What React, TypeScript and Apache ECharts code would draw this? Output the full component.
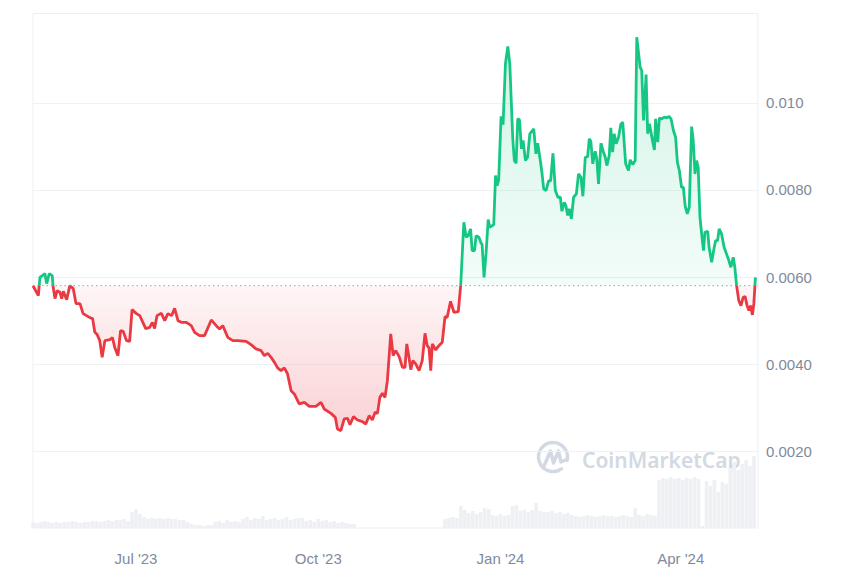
import React, { useEffect, useRef } from 'react';
import * as echarts from 'echarts';

const START = Date.UTC(2023, 4, 10);
const DAY = 86400000;
const RANGE_DAYS = 366;
const BASELINE = 0.0058;

const GREEN = '#16c784';
const RED = '#ea3943';

// [day offset from START, price]
const pricePoints: [number, number][] = [
  [0, 0.0058], [2.7, 0.005573], [3.5, 0.005993], [6, 0.006078], [6.9, 0.005848], [8.2, 0.006078],
  [9.7, 0.006032], [10.2, 0.005763], [11.1, 0.005504], [12.2, 0.005688], [13.6, 0.005649], [14.5, 0.005504],
  [15.3, 0.005672], [17, 0.005481], [18.6, 0.005803], [20.3, 0.005734], [21.7, 0.005389], [23.7, 0.005389],
  [25.3, 0.005159], [28.7, 0.005067], [30.1, 0.005044], [31.2, 0.00473], [32.4, 0.004677], [33.7, 0.004539],
  [34.9, 0.004155], [36.3, 0.004539], [38.8, 0.004562], [40.1, 0.004608], [41.3, 0.004378], [42.9, 0.004194],
  [44.2, 0.004769], [45.5, 0.004753], [47.2, 0.004539], [48.8, 0.004523], [50, 0.005251], [52.2, 0.005159],
  [53.9, 0.005113], [56.9, 0.004815], [58.9, 0.004844], [60.3, 0.004959], [61.4, 0.004815], [62.6, 0.005113],
  [64.8, 0.005166], [66.5, 0.004998], [68.1, 0.005159], [70, 0.005113], [71.5, 0.005281], [73.2, 0.004998],
  [74.9, 0.004959], [77.4, 0.004959], [79.9, 0.004883], [81.6, 0.00473], [84.1, 0.004654], [86.6, 0.004654],
  [90, 0.005014], [92.5, 0.004883], [94.2, 0.004808], [95.8, 0.004883], [98.3, 0.004615], [100.9, 0.004539],
  [103.4, 0.004539], [107.6, 0.004523], [110.1, 0.004447], [112.6, 0.004348], [115.2, 0.004309], [116.8, 0.004194],
  [118.5, 0.004247], [120.2, 0.004155], [121.9, 0.00404], [123.5, 0.003912], [125.2, 0.00385], [126.9, 0.003912],
  [128.5, 0.003774], [130.3, 0.00339], [131.9, 0.003314], [134.4, 0.003085], [137, 0.003121], [139.5, 0.003029],
  [142.8, 0.003029], [145.4, 0.003121], [147, 0.00297], [150.4, 0.002869], [152.6, 0.002777], [153.7, 0.00251],
  [155.4, 0.002471], [157.1, 0.00274], [158.8, 0.002754], [160, 0.002609], [161.8, 0.002793], [163.8, 0.002717],
  [166.3, 0.002678], [168, 0.002625], [169.7, 0.002816], [171.3, 0.002717], [172.7, 0.002892], [173.9, 0.002869],
  [175.1, 0.003236], [176.4, 0.003328], [177.7, 0.003236], [178.9, 0.00362], [180.6, 0.004693], [181.8, 0.004194],
  [183.1, 0.004309], [184.8, 0.004178], [186.5, 0.003925], [187.8, 0.003925], [188.7, 0.004463], [189.8, 0.004155],
  [190.7, 0.003873], [191.8, 0.004079], [193.2, 0.004004], [194.9, 0.00385], [196.5, 0.004079], [197.9, 0.004707],
  [199, 0.004424], [199.9, 0.004371], [200.8, 0.00385], [201.6, 0.004463], [203.3, 0.004325], [204.9, 0.004424],
  [206.6, 0.0045], [208, 0.00509], [209.1, 0.005074], [210.8, 0.005442], [212.5, 0.005189], [214.7, 0.005205],
  [215.9, 0.005803], [217.5, 0.007257], [218.7, 0.006912], [219.7, 0.006951], [220.9, 0.007105], [221.7, 0.006607],
  [222.9, 0.006607], [223.7, 0.006951], [225.1, 0.006912], [226.2, 0.006774], [226.7, 0.006761], [227.7, 0.005993],
  [228.7, 0.006531], [229.8, 0.007319], [230.6, 0.007142], [232.6, 0.007204], [233.5, 0.00833], [234.3, 0.0081],
  [235.1, 0.008231], [236.3, 0.009692], [237.3, 0.009495], [238.5, 0.010896], [239.7, 0.011293], [240.7, 0.010896],
  [241.5, 0.009977], [242.2, 0.009173], [243, 0.008674], [243.9, 0.008612], [244.7, 0.009632], [245.6, 0.009609],
  [246.6, 0.008943], [247.4, 0.009134], [248.6, 0.008674], [249.7, 0.00875], [250.8, 0.009288], [252.8, 0.009403],
  [253.9, 0.008828], [254.8, 0.009072], [256.1, 0.008674], [256.9, 0.008406], [257.8, 0.008024], [259, 0.007985],
  [260.3, 0.008215], [261.3, 0.008199], [262.5, 0.008842], [263.7, 0.007985], [265, 0.007831], [266.2, 0.007831],
  [267, 0.00751], [268.2, 0.007716], [269, 0.00764], [269.9, 0.007411], [270.7, 0.007565], [271.8, 0.007335],
  [272.9, 0.007831], [274.3, 0.007909], [275.4, 0.008369], [276.6, 0.008291], [277.6, 0.007854], [278.8, 0.00875],
  [280, 0.008766], [280.8, 0.009173], [281.6, 0.009118], [282.6, 0.008599], [283.8, 0.008888], [284.6, 0.008713],
  [285.5, 0.008139], [286.7, 0.009072], [288, 0.008865], [288.9, 0.00875], [289.7, 0.008559], [290.9, 0.008789],
  [291.7, 0.009426], [292.6, 0.008865], [293.4, 0.009288], [294.4, 0.009058], [295.6, 0.00921], [296.7, 0.009501],
  [297.7, 0.009554], [299.2, 0.008599], [300.6, 0.008445], [301.5, 0.00869], [302.8, 0.008582], [304, 0.008674],
  [304.8, 0.011507], [306.5, 0.010818], [307.3, 0.010742], [308.2, 0.009593], [309, 0.010207], [309.5, 0.01065],
  [310.3, 0.009288], [311.2, 0.009518], [312, 0.009325], [312.7, 0.009134], [313.7, 0.00892], [314.3, 0.009632],
  [315.4, 0.009095], [316.2, 0.009646], [317.4, 0.009632], [318.7, 0.009669], [319.9, 0.009655], [321.1, 0.009685],
  [322.1, 0.009632], [323.3, 0.009364], [324.4, 0.00921], [325.3, 0.008635], [326.3, 0.008445], [327.4, 0.008061],
  [328.3, 0.008061], [329.2, 0.00764], [330.3, 0.00745], [331.3, 0.007601], [332.5, 0.009455], [333.3, 0.009134],
  [334.2, 0.008369], [335, 0.008674], [335.8, 0.00852], [336.7, 0.007372], [337.9, 0.006836], [338.5, 0.006607],
  [339.2, 0.007027], [340.6, 0.00705], [341.3, 0.006682], [342.6, 0.006338], [343.9, 0.006682], [344.6, 0.006836],
  [345.6, 0.006836], [346.4, 0.007105], [347.6, 0.00699], [348.9, 0.006682], [350.1, 0.006531], [351.3, 0.006377],
  [352.3, 0.006223], [353.5, 0.006453], [354.3, 0.006223], [355.2, 0.005803], [356.3, 0.005458], [357.4, 0.005343],
  [358.5, 0.005534], [359.5, 0.00555], [360.5, 0.005343], [361.4, 0.005228], [362.2, 0.005343], [363.2, 0.005129],
  [363.9, 0.005382], [364.7, 0.005993],
];

// volume, one bar every VOLUME_STEP days starting at day 0 (relative units)
const VOLUME_STEP = 2;
const volumes: number[] = [
  6, 5, 6, 7, 6, 5, 6, 5, 6, 6, 7, 6, 5, 6, 6, 7,
  7, 6, 7, 8, 7, 8, 8, 9, 7,
  16, 19, 14,
  11, 9, 10, 9, 10, 9, 10, 9, 9, 8,
  8, 6, 4, 3,
  3, 2, 3, 3,
  6, 7, 5, 8, 6, 7, 6,
  9, 11, 8, 10, 9, 12, 8, 9, 10, 8, 9, 11, 8, 9, 10,
  10, 7, 8, 6, 9, 7, 8, 6, 7, 5, 6, 5, 4, 4,
  0, 0, 0, 0, 0, 0, 0, 0, 0, 0, 0, 0, 0, 0, 0, 0, 0, 0, 0, 0, 0, 0,
  9, 10, 11, 10,
  22, 18,
  15, 17, 14, 16,
  20, 19,
  13, 12, 14, 12, 13,
  22, 23,
  17, 18, 16, 18, 25, 17, 16,
  16, 17, 15, 16, 14, 15,
  13, 12, 11, 12, 13, 12, 11, 12, 13, 12, 12, 11, 12, 13, 12, 11, 20,
  13, 12, 14, 13, 12,
  48, 50, 49, 51, 49, 50, 48, 50, 49, 51, 49,
  2,
  47, 42, 48, 36, 46, 44,
  60, 66, 58, 64, 68, 62, 72,
];

const xTickDates: [number, number, number][] = [[2023, 6, 1], [2023, 9, 1], [2024, 0, 1], [2024, 3, 1]];
const xTickLabels = ["Jul '23", "Oct '23", "Jan '24", "Apr '24"];
const yTicks = [0.002, 0.004, 0.006, 0.008, 0.01];
const yTickLabels = ['0.0020', '0.0040', '0.0060', '0.0080', '0.010'];

const FONT = '"Liberation Sans", Arial, sans-serif';
const LABEL_COLOR = '#808a9d';
const WATERMARK = '#d3d9e3';
const GRID_LINE = '#eff1f4';

export default function App() {
  const ref = useRef<HTMLDivElement>(null);

  useEffect(() => {
    if (!ref.current) return;
    const chart = echarts.init(ref.current, undefined, { renderer: 'svg' });

    const priceData = pricePoints.map(([d, v]) => [d, v]);
    const volData = volumes.map((v, i) => [i * VOLUME_STEP, v]);
    const baselineData = [[0, BASELINE], [RANGE_DAYS, BASELINE]];
    const tickDays = xTickDates.map(([y, m, d]) => Math.round((Date.UTC(y, m, d) - START) / DAY));

    const vals = pricePoints.map((p) => p[1]);
    const pMax = Math.max(...vals);
    const pMin = Math.min(...vals);
    const f = (pMax - BASELINE) / (pMax - pMin);

    const areaGradient = new echarts.graphic.LinearGradient(0, 0, 0, 1, [
      { offset: 0, color: 'rgba(22,199,132,0.28)' },
      { offset: f, color: 'rgba(22,199,132,0.07)' },
      { offset: f, color: 'rgba(234,57,67,0.07)' },
      { offset: 1, color: 'rgba(234,57,67,0.32)' },
    ]);

    const none = 'rgba(0,0,0,0)';

    chart.setOption({
      animation: false,
      backgroundColor: '#ffffff',
      textStyle: { fontFamily: FONT },
      grid: [
        { left: 33, right: 92, top: 15.7, bottom: 28.7, show: false },
        { left: 33, right: 92, top: 453, bottom: 39, show: false },
      ],
      xAxis: [
        { type: 'value', gridIndex: 0, min: 0, max: RANGE_DAYS, show: false },
        {
          type: 'value',
          gridIndex: 1,
          min: 0,
          max: RANGE_DAYS,
          interval: 1,
          axisLine: { show: false },
          axisTick: { show: false },
          splitLine: { show: false },
          axisLabel: {
            showMinLabel: false,
            showMaxLabel: false,
            formatter: (v: number) => {
              const i = tickDays.indexOf(Math.round(v));
              return i >= 0 ? xTickLabels[i] : '';
            },
            color: LABEL_COLOR,
            fontSize: 15,
            fontFamily: FONT,
            margin: 23,
          },
        },
      ],
      yAxis: [
        {
          type: 'value',
          gridIndex: 0,
          position: 'right',
          min: 0,
          max: 0.012,
          interval: 0.002,
          axisLine: { show: false },
          axisTick: { show: false },
          splitLine: {
            show: true,
            lineStyle: { color: [none, GRID_LINE, GRID_LINE, GRID_LINE, GRID_LINE, GRID_LINE, none], width: 1 },
          },
          axisLabel: {
            color: LABEL_COLOR,
            fontSize: 15,
            fontFamily: FONT,
            margin: 8,
            formatter: (v: number) => {
              const i = yTicks.findIndex((t) => Math.abs(t - v) < 1e-9);
              return i >= 0 ? yTickLabels[i] : '';
            },
          },
        },
        { type: 'value', gridIndex: 1, min: 0, max: 75, show: false },
      ],
      visualMap: {
        show: false,
        type: 'piecewise',
        seriesIndex: 1,
        dimension: 1,
        pieces: [
          { gt: BASELINE, lte: 1, color: GREEN },
          { gte: 0, lte: BASELINE, color: RED },
        ],
      },
      graphic: [
        {
          type: 'rect',
          silent: true,
          z: -1,
          shape: { x: 33, y: 13.5, width: 725, height: 514.5 },
          style: { fill: 'none', stroke: '#eceff3', lineWidth: 1 },
        },
        {
          type: 'group',
          silent: true,
          children: [
            {
              type: 'arc',
              shape: { cx: 553, cy: 457, r: 14.5, startAngle: 0.95, endAngle: 0.25 + Math.PI * 2, clockwise: true },
              style: { stroke: WATERMARK, lineWidth: 3.4, fill: 'none', lineCap: 'round' },
            },
            {
              type: 'polyline',
              shape: { points: [[544, 466], [550.5, 451], [553.5, 463], [558.5, 451], [561, 462], [566.5, 459.5]] },
              style: { stroke: WATERMARK, lineWidth: 3.4, fill: 'none', lineJoin: 'round', lineCap: 'round' },
            },
            {
              type: 'text',
              x: 582,
              y: 460,
              style: {
                text: 'CoinMarketCap',
                fill: WATERMARK,
                fontSize: 21,
                fontWeight: 600,
                fontFamily: '"Noto Sans", Inter, sans-serif',
                verticalAlign: 'middle',
                align: 'left',
              },
            },
          ],
        },
      ],
      series: [
        {
          type: 'bar',
          xAxisIndex: 1,
          yAxisIndex: 1,
          data: volData,
          barWidth: 3.6,
          itemStyle: { color: '#eef0f4' },
          silent: true,
        },
        {
          type: 'line',
          xAxisIndex: 0,
          yAxisIndex: 0,
          data: priceData,
          showSymbol: false,
          symbol: 'none',
          lineStyle: { width: 2.8 },
          areaStyle: { origin: BASELINE, color: areaGradient },
          z: 3,
        },
        {
          type: 'line',
          xAxisIndex: 0,
          yAxisIndex: 0,
          data: baselineData,
          showSymbol: false,
          symbol: 'none',
          silent: true,
          lineStyle: { color: '#9aa1ae', type: [1.5, 3], width: 1 },
          z: 2,
        },
      ],
    });

    return () => chart.dispose();
  }, []);

  return (
    <div
      ref={ref}
      style={{ position: 'fixed', left: 0, top: 0, width: 850, height: 567, background: '#fff' }}
    />
  );
}
